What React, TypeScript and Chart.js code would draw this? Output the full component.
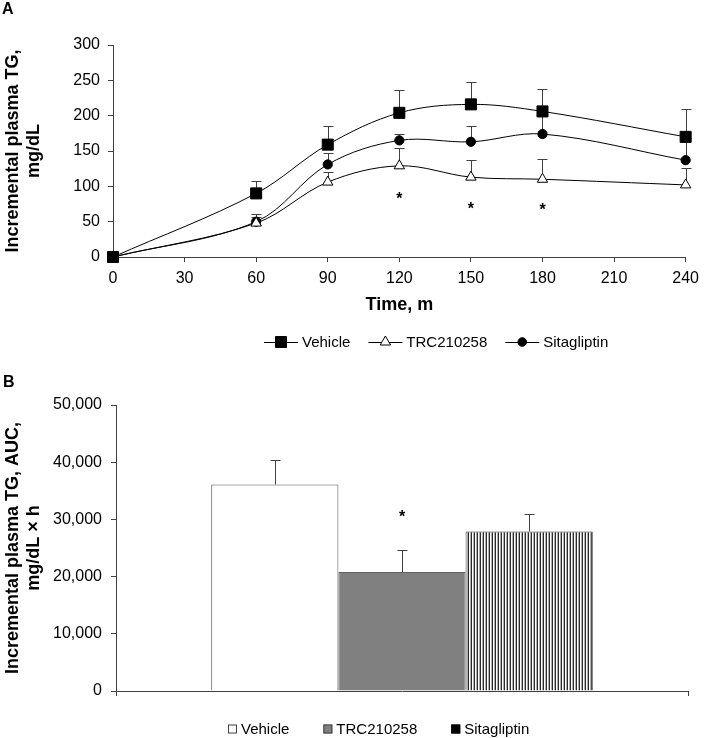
import React, { useEffect, useRef } from 'react';
import { Chart, registerables } from 'chart.js';

Chart.register(...registerables);

const FONT_FAMILY = "'Liberation Sans', Arial, Helvetica, sans-serif";

// ---------- Panel A : incremental plasma TG over time ----------
const timeMinutes = [0, 60, 90, 120, 150, 180, 240];
const vehicleTG = [0, 90, 159, 204, 216, 206, 170];
const vehicleTGErr = [0, 18, 27, 33, 32, 32, 39];
const trcTG = [0, 48, 106, 129, 113, 110, 102];
const trcTGErr = [0, 8, 14, 25, 24, 28, 24];
const sitaTG = [0, 50, 131, 165, 163, 174, 137];
const sitaTGErr = [0, 11, 16, 9, 23, 32, 32];
const seriesNames = ['Vehicle', 'TRC210258', 'Sitagliptin'];
const timeMax = 240;
const timeTickStep = 30;
const tgMax = 300;
const tgTickStep = 50;
const starTimes = [120, 150, 180];
const starTGLevels = [88, 73, 72];

// ---------- Panel B : AUC ----------
const aucMeans = [36100, 20800, 27900];
const aucErrors = [4300, 3900, 3100];
const aucMax = 50000;
const aucTickStep = 10000;
const aucStarSeries = 1;
const aucStarLevel = 31200;

const AXIS_COLOR = '#404040';

function drawMarker(ctx: any, style: string, x: number, y: number, r: number, fill: string, stroke: string) {
  ctx.save();
  ctx.beginPath();
  if (style === 'rect') {
    const s = Math.SQRT1_2 * r;
    ctx.rect(x - s, y - s, 2 * s, 2 * s);
  } else if (style === 'triangle') {
    let rad = 0;
    ctx.moveTo(x + Math.sin(rad) * r, y - Math.cos(rad) * r);
    rad += (2 * Math.PI) / 3;
    ctx.lineTo(x + Math.sin(rad) * r, y - Math.cos(rad) * r);
    rad += (2 * Math.PI) / 3;
    ctx.lineTo(x + Math.sin(rad) * r, y - Math.cos(rad) * r);
    ctx.closePath();
  } else {
    ctx.arc(x, y, r, 0, Math.PI * 2);
  }
  ctx.fillStyle = fill;
  ctx.fill();
  ctx.strokeStyle = stroke;
  ctx.lineWidth = 1;
  ctx.stroke();
  ctx.restore();
}

const errorBarPlugin = {
  id: 'errorBars',
  beforeDatasetsDraw(chart: any) {
    const { ctx } = chart;
    const yScale = chart.scales.y;
    ctx.save();
    ctx.strokeStyle = AXIS_COLOR;
    ctx.lineWidth = 1;
    chart.data.datasets.forEach((ds: any, di: number) => {
      if (!ds.errors) return;
      const meta = chart.getDatasetMeta(di);
      meta.data.forEach((el: any, i: number) => {
        const err = ds.errors[i];
        if (!err) return;
        const raw = ds.data[i];
        const v = typeof raw === 'number' ? raw : raw.y;
        const x = Math.round(el.x) + 0.5;
        const yTop = Math.round(yScale.getPixelForValue(v + err)) + 0.5;
        ctx.beginPath();
        ctx.moveTo(x, el.y);
        ctx.lineTo(x, yTop);
        ctx.moveTo(x - 5, yTop);
        ctx.lineTo(x + 5, yTop);
        ctx.stroke();
      });
    });
    ctx.restore();
  },
};

const panelAExtras = {
  id: 'panelAExtras',
  afterDraw(chart: any) {
    const { ctx } = chart;
    const xs = chart.scales.x;
    const ys = chart.scales.y;
    ctx.save();
    // panel letter
    ctx.fillStyle = '#000';
    ctx.font = `bold 16px ${FONT_FAMILY}`;
    ctx.textBaseline = 'alphabetic';
    ctx.textAlign = 'left';
    ctx.fillText('A', 2, 14);
    // significance stars
    ctx.font = `bold 16px ${FONT_FAMILY}`;
    ctx.textAlign = 'center';
    starTimes.forEach((t, i) => {
      ctx.fillText('*', xs.getPixelForValue(t), ys.getPixelForValue(starTGLevels[i]) + 9);
    });
    // legend
    ctx.font = `15px ${FONT_FAMILY}`;
    ctx.textAlign = 'left';
    ctx.textBaseline = 'middle';
    let x = 264;
    const y = 342;
    chart.data.datasets.forEach((ds: any) => {
      ctx.strokeStyle = '#000';
      ctx.lineWidth = 1;
      ctx.beginPath();
      ctx.moveTo(x, y + 0.5);
      ctx.lineTo(x + 34, y + 0.5);
      ctx.stroke();
      const r = ds.pointStyle === 'rect' ? 7.8 : ds.pointStyle === 'triangle' ? 6 : 4.3;
      drawMarker(ctx, ds.pointStyle, x + 17, y, r, ds.pointBackgroundColor, '#000');
      ctx.fillStyle = '#000';
      ctx.fillText(ds.label, x + 38, y + 1);
      x = x + 38 + ctx.measureText(ds.label).width + 18;
    });
    ctx.restore();
  },
};

const panelBExtras = {
  id: 'panelBExtras',
  afterDraw(chart: any) {
    const { ctx } = chart;
    const ys = chart.scales.y;
    ctx.save();
    ctx.fillStyle = '#000';
    ctx.font = `bold 16px ${FONT_FAMILY}`;
    ctx.textAlign = 'left';
    ctx.textBaseline = 'alphabetic';
    ctx.fillText('B', 3, 17);
    // star over TRC bar
    const bar = chart.getDatasetMeta(aucStarSeries).data[0];
    ctx.textAlign = 'center';
    ctx.fillText('*', bar.x, ys.getPixelForValue(aucStarLevel) + 9);
    // legend
    ctx.font = `15px ${FONT_FAMILY}`;
    ctx.textAlign = 'left';
    ctx.textBaseline = 'middle';
    let x = 228;
    const y = 359;
    const legendFills = ['#ffffff', '#808080', '#000000'];
    const legendStrokes = ['#404040', '#404040', '#000000'];
    chart.data.datasets.forEach((ds: any, i: number) => {
      ctx.fillStyle = legendFills[i];
      ctx.fillRect(x, y - 4.5, 9, 9);
      ctx.strokeStyle = legendStrokes[i];
      ctx.lineWidth = 1;
      ctx.strokeRect(x + 0.5, y - 4, 8, 8);
      ctx.fillStyle = '#000';
      ctx.fillText(ds.label, x + 13, y + 1);
      x = x + 13 + ctx.measureText(ds.label).width + 34;
    });
    ctx.restore();
  },
};

function makePoints(values: number[]) {
  return timeMinutes.map((t, i) => ({ x: t, y: values[i] }));
}

export default function App() {
  const topRef = useRef<HTMLCanvasElement | null>(null);
  const bottomRef = useRef<HTMLCanvasElement | null>(null);

  useEffect(() => {
    Chart.defaults.font.family = FONT_FAMILY;
    Chart.defaults.color = '#000';

    const lineBase = {
      borderColor: '#000',
      borderWidth: 1,
      pointBorderColor: '#000',
      pointBorderWidth: 1,
      tension: 0.35,
      fill: false,
      clip: false,
    };

    const top = new Chart(topRef.current as any, {
      type: 'line',
      data: {
        datasets: [
          {
            ...lineBase,
            label: seriesNames[0],
            data: makePoints(vehicleTG),
            errors: vehicleTGErr,
            pointStyle: 'rect',
            pointRadius: 7.8,
            pointBackgroundColor: '#000',
          },
          {
            ...lineBase,
            label: seriesNames[1],
            data: makePoints(trcTG),
            errors: trcTGErr,
            pointStyle: 'triangle',
            pointRadius: 6,
            pointBackgroundColor: '#fff',
          },
          {
            ...lineBase,
            label: seriesNames[2],
            data: makePoints(sitaTG),
            errors: sitaTGErr,
            pointStyle: 'circle',
            pointRadius: 4.6,
            pointBackgroundColor: '#000',
          },
        ] as any,
      },
      options: {
        responsive: false,
        animation: false,
        events: [],
        layout: { padding: { left: 0, right: 13, top: 45, bottom: 54 } },
        plugins: { legend: { display: false }, tooltip: { enabled: false } },
        scales: {
          x: {
            type: 'linear',
            min: 0,
            max: timeMax,
            ticks: { stepSize: timeTickStep, font: { size: 16 }, color: '#000', padding: 7, maxRotation: 0 },
            grid: { drawOnChartArea: false, tickLength: 5, color: AXIS_COLOR },
            border: { color: AXIS_COLOR },
            title: { display: true, text: 'Time, m', font: { size: 18, weight: 'bold' }, color: '#000', padding: 0 },
            afterFit: (s: any) => { s.height = 59; },
          },
          y: {
            min: 0,
            max: tgMax,
            ticks: { stepSize: tgTickStep, font: { size: 16 }, color: '#000', padding: 8 },
            grid: { drawOnChartArea: false, tickLength: 5, color: AXIS_COLOR },
            border: { color: AXIS_COLOR },
            title: {
              display: true,
              text: ['Incremental plasma TG,', 'mg/dL'],
              font: { size: 18, weight: 'bold' },
              color: '#000',
              padding: { top: 2, bottom: 0 },
            },
            afterFit: (s: any) => { s.width = 113; },
          },
        },
      } as any,
      plugins: [errorBarPlugin, panelAExtras],
    });

    // vertical stripe pattern for Sitagliptin bar
    const pc = document.createElement('canvas');
    pc.width = 3;
    pc.height = 4;
    const pctx = pc.getContext('2d') as CanvasRenderingContext2D;
    pctx.fillStyle = '#ffffff';
    pctx.fillRect(0, 0, 3, 4);
    pctx.fillStyle = '#2a2a2a';
    pctx.fillRect(0, 0, 1, 4);
    pctx.fillStyle = '#b0b0b0';
    pctx.fillRect(2, 0, 1, 4);
    const bctx = (bottomRef.current as HTMLCanvasElement).getContext('2d') as CanvasRenderingContext2D;
    const stripes = bctx.createPattern(pc, 'repeat');

    const barFills: any[] = ['#ffffff', '#808080', stripes];
    const barBorders = ['#505050', '#606060', '#303030'];

    const bottom = new Chart(bottomRef.current as any, {
      type: 'bar',
      data: {
        labels: [''],
        datasets: seriesNames.map((name, i) => ({
          label: name,
          data: [aucMeans[i]],
          errors: [aucErrors[i]],
          backgroundColor: barFills[i],
          borderColor: barBorders[i],
          borderWidth: 1,
          borderSkipped: 'bottom',
          categoryPercentage: 0.667,
          barPercentage: 1,
        })) as any,
      },
      options: {
        responsive: false,
        animation: false,
        events: [],
        layout: { padding: { left: 0, right: 18, top: 35, bottom: 42 } },
        plugins: { legend: { display: false }, tooltip: { enabled: false } },
        scales: {
          x: {
            ticks: { display: false },
            grid: { drawOnChartArea: false, tickLength: 5, color: AXIS_COLOR, offset: true },
            border: { color: AXIS_COLOR },
            afterFit: (s: any) => { s.height = 5; },
          },
          y: {
            min: 0,
            max: aucMax,
            ticks: {
              stepSize: aucTickStep,
              font: { size: 16 },
              color: '#000',
              padding: 9,
              callback: (v: any) => Number(v).toLocaleString('en-US'),
            },
            grid: { drawOnChartArea: false, tickLength: 5, color: AXIS_COLOR },
            border: { color: AXIS_COLOR },
            title: {
              display: true,
              text: ['Incremental plasma TG, AUC,', 'mg/dL \u00d7 h'],
              font: { size: 18, weight: 'bold' },
              color: '#000',
              padding: { top: 2, bottom: 0 },
            },
            afterFit: (s: any) => { s.width = 116; },
          },
        },
      } as any,
      plugins: [errorBarPlugin, panelBExtras],
    });

    return () => {
      top.destroy();
      bottom.destroy();
    };
  }, []);

  return (
    <div style={{ position: 'absolute', left: 0, top: 0, width: 706, height: 738, background: '#fff' }}>
      <canvas ref={topRef} width={706} height={370} style={{ position: 'absolute', left: 0, top: 0, display: 'block' }} />
      <canvas ref={bottomRef} width={706} height={368} style={{ position: 'absolute', left: 0, top: 370, display: 'block' }} />
    </div>
  );
}
